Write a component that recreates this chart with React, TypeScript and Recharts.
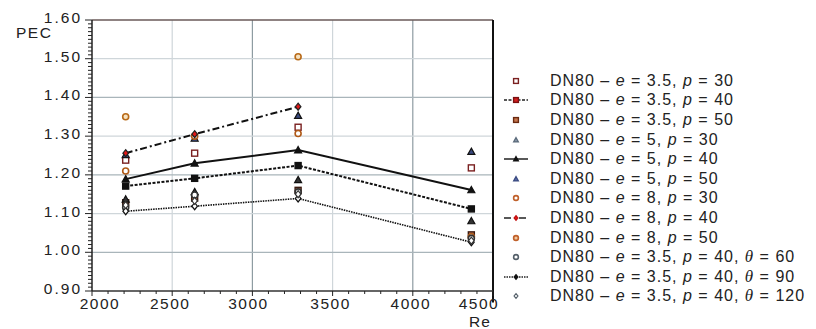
import React from "react";
import {
  ScatterChart,
  Scatter,
  XAxis,
  YAxis,
  ReferenceLine,
  Legend,
} from "recharts";

// Reynolds numbers of the four test points
const RE = [2210, 2640, 3285, 4365];

const E35_P30 = [1.238, 1.256, 1.323, 1.218];
const E35_P40 = [1.171, 1.191, 1.224, 1.112];
const E35_P50 = [1.128, 1.14, 1.16, 1.045];
const E5_P30 = [1.137, 1.156, 1.187, 1.081];
const E5_P40 = [1.189, 1.23, 1.264, 1.161];
const E5_P50 = [1.252, 1.294, 1.353, 1.26];
const E8_P30 = [1.21, 1.3, 1.307, 1.04];
const E8_P40 = [1.256, 1.305, 1.376, null];
const E8_P50 = [1.35, null, 1.505, null];
const TH60 = [1.116, 1.148, 1.156, 1.036];
const TH90 = [1.106, 1.119, 1.139, 1.026];
const TH120 = [1.122, 1.133, 1.15, 1.03];

const X_TICKS = [2000, 2500, 3000, 3500, 4000, 4500];
const Y_TICKS = [0.9, 1.0, 1.1, 1.2, 1.3, 1.4, 1.5, 1.6];

const FONT = '"Liberation Sans", Arial, sans-serif';
const PLOT_LEFT = 84;
const PLOT_BOTTOM = 283;

const toPoints = (vals: (number | null)[]) =>
  RE.map((re, i) => ({ re, pec: vals[i] })).filter((d) => d.pec != null);

type Shape = (cx: number, cy: number, s?: number) => React.ReactElement;

const square = (fill: string, stroke: string): Shape => (cx, cy, s = 3) => (
  <rect x={cx - s} y={cy - s} width={s * 2} height={s * 2} fill={fill} stroke={stroke} strokeWidth={1.4} />
);
const triangle = (fill: string, stroke: string): Shape => (cx, cy, s = 3.5) => (
  <polygon
    points={`${cx},${cy - s} ${cx + s},${cy + s * 0.8} ${cx - s},${cy + s * 0.8}`}
    fill={fill}
    stroke={stroke}
    strokeWidth={1.2}
  />
);
const circle = (fill: string, stroke: string): Shape => (cx, cy, s = 3) => (
  <circle cx={cx} cy={cy} r={s} fill={fill} stroke={stroke} strokeWidth={1.6} />
);
const diamond = (fill: string, stroke: string): Shape => (cx, cy, s = 3.5) => (
  <polygon
    points={`${cx},${cy - s} ${cx + s * 0.8},${cy} ${cx},${cy + s} ${cx - s * 0.8},${cy}`}
    fill={fill}
    stroke={stroke}
    strokeWidth={1.2}
  />
);

const I = ({ children }: { children: React.ReactNode }) => <i>{children}</i>;
const Th = () => <i style={{ fontFamily: '"Liberation Serif", serif', fontSize: 17 }}>θ</i>;

const label = (e: string, p: string, th?: string) => (
  <span>
    DN80 – <I>e</I> = {e}, <I>p</I> = {p}
    {th && (
      <>
        , <Th /> = {th}
      </>
    )}
  </span>
);

const SERIES = [
  { key: "s1", vals: E35_P30, shape: square("#fff", "#7a2020"), legend: square("#fff", "#7a2020"), line: null, text: label("3.5", "30") },
  { key: "s2", vals: E35_P40, shape: square("#111", "#111"), legend: square("#d42020", "#7a1010"), line: { stroke: "#111", strokeWidth: 2, strokeDasharray: "3 1.5" }, text: label("3.5", "40") },
  { key: "s3", vals: E35_P50, shape: square("#c87850", "#3a1a10"), legend: square("#c87850", "#6a2a10"), line: null, text: label("3.5", "50") },
  { key: "s4", vals: E5_P30, shape: triangle("#333", "#111"), legend: triangle("#8a98aa", "#5a6a7a"), line: null, text: label("5", "30") },
  { key: "s5", vals: E5_P40, shape: triangle("#111", "#111"), legend: triangle("#111", "#111"), line: { stroke: "#111", strokeWidth: 2 }, text: label("5", "40") },
  { key: "s6", vals: E5_P50, shape: triangle("#3a4a80", "#111"), legend: triangle("#5a6aa8", "#3a4a80"), line: null, text: label("5", "50") },
  { key: "s7", vals: E8_P30, shape: circle("#fff", "#b05a18"), legend: circle("#fff", "#c0602a"), line: null, text: label("8", "30") },
  { key: "s8", vals: E8_P40, shape: diamond("#e01818", "#222"), legend: diamond("#e01818", "#c01010"), line: { stroke: "#111", strokeWidth: 2, strokeDasharray: "7 3 2 3" }, text: label("8", "40") },
  { key: "s9", vals: E8_P50, shape: circle("#f6e2c0", "#b86a18"), legend: circle("#f0c8a0", "#c0602a"), line: null, text: label("8", "50") },
  { key: "s10", vals: TH60, shape: circle("#fff", "#333"), legend: circle("#fff", "#55606a"), line: null, text: label("3.5", "40", "60") },
  { key: "s11", vals: TH90, shape: diamond("#fff", "#111"), legend: diamond("#111", "#111"), line: { stroke: "#111", strokeWidth: 1.6, strokeDasharray: "1.5 1" }, text: label("3.5", "40", "90") },
  { key: "s12", vals: TH120, shape: diamond("#fff", "#333"), legend: diamond("#fff", "#55606a"), line: null, text: label("3.5", "40", "120") },
];

const isMajor = (v: number, step: number) => Math.abs(v / step - Math.round(v / step)) < 1e-6;

const yMinor: number[] = [];
for (let i = 90; i <= 160; i++) yMinor.push(i / 100);
const xMinor: number[] = [];
for (let v = 2000; v <= 4500; v += 100) xMinor.push(v);

const YTick = (props: any) => {
  const { y, payload } = props;
  const v = payload.value as number;
  const major = isMajor(v, 0.1);
  return (
    <g>
      <line x1={PLOT_LEFT - (major ? 7 : 4)} x2={PLOT_LEFT} y1={y} y2={y} stroke="#222" strokeWidth={1} />
      {major && (
        <text
          x={PLOT_LEFT - 10}
          y={y}
          dy={3}
          textAnchor="end"
          fontSize={15.5}
          letterSpacing={2}
          fill="#222"
          fontFamily={FONT}
        >
          {v.toFixed(2)}
        </text>
      )}
    </g>
  );
};

const XTick = (props: any) => {
  const { x, payload } = props;
  const v = payload.value as number;
  const major = isMajor(v, 500);
  const shift = v === 2000 ? 8 : v === 4500 ? -14 : v === 3000 ? -4 : -2;
  return (
    <g>
      <line x1={x} x2={x} y1={PLOT_BOTTOM} y2={PLOT_BOTTOM + (major ? 5 : 3)} stroke="#222" strokeWidth={1} />
      {major && (
        <text
          x={x + shift}
          y={PLOT_BOTTOM + 18}
          textAnchor="middle"
          fontSize={15.5}
          letterSpacing={1.5}
          fill="#222"
          fontFamily={FONT}
        >
          {v}
        </text>
      )}
    </g>
  );
};

const LegendContent = () => (
  <div style={{ fontFamily: FONT, fontSize: 16, color: "#222", letterSpacing: 1 }}>
    {SERIES.map((s) => (
      <div key={s.key} style={{ display: "flex", alignItems: "center", height: 19.6, whiteSpace: "nowrap" }}>
        <svg width={28} height={12} style={{ display: "block" }}>
          {s.line && <line x1={2} x2={26} y1={6} y2={6} stroke="#222" strokeWidth={1.5} strokeDasharray={s.line.strokeDasharray} />}
          {s.legend(14, 6, 2.4)}
        </svg>
        <div style={{ marginLeft: 20 }}>{s.text}</div>
      </div>
    ))}
  </div>
);

export default function App() {
  return (
    <div style={{ width: 808, height: 321, position: "relative" }}>
      <ScatterChart width={808} height={321} margin={{ top: 12, right: 323, bottom: 8, left: 24 }}>
        {X_TICKS.slice(1, -1).map((v, i) => (
          <ReferenceLine key={"gx" + v} x={v} stroke={i % 2 ? "#8e9ca2" : "#cfd6da"} strokeWidth={1.2} />
        ))}
        {Y_TICKS.slice(1, -1).map((v, i) => (
          <ReferenceLine key={"gy" + v} y={v} stroke={i % 2 ? "#cfd6da" : "#a9b5ba"} strokeWidth={1.2} />
        ))}
        <ReferenceLine y={1.6} stroke="#6a5a58" strokeWidth={1.5} />
        <ReferenceLine
          segment={[{ x: 4500, y: 0.87 }, { x: 4500, y: 1.6 }]}
          ifOverflow="visible"
          stroke="#111"
          strokeWidth={2}
        />
        <XAxis
          dataKey="re"
          type="number"
          domain={[2000, 4500]}
          ticks={xMinor}
          interval={0}
          height={30}
          axisLine={{ stroke: "#333", strokeWidth: 1.5 }}
          tickLine={false}
          tick={<XTick />}
          label={({ viewBox }: any) => (
            <text
              x={viewBox.x + viewBox.width - 24}
              y={319}
              fontSize={15.5}
              letterSpacing={1}
              fill="#222"
              fontFamily={FONT}
            >
              Re
            </text>
          )}
        />
        <YAxis
          dataKey="pec"
          type="number"
          domain={[0.9, 1.6]}
          ticks={yMinor}
          interval={0}
          width={60}
          axisLine={{ stroke: "#222", strokeWidth: 1.5 }}
          tickLine={false}
          tick={<YTick />}
          label={() => (
            <text x={8} y={30} fontSize={15.5} letterSpacing={1.5} fill="#222" fontFamily={FONT}>
              PEC
            </text>
          )}
        />
        {SERIES.map((s) => (
          <Scatter
            key={s.key}
            name={s.key}
            data={toPoints(s.vals)}
            dataKey="pec"
            line={s.line ?? false}
            shape={(p: any) => s.shape(p.cx, p.cy)}
            isAnimationActive={false}
          />
        ))}
        <Legend
          layout="vertical"
          align="center"
          verticalAlign="middle"
          wrapperStyle={{ left: 494, top: 63, width: 320 }}
          content={<LegendContent />}
        />
      </ScatterChart>
    </div>
  );
}
